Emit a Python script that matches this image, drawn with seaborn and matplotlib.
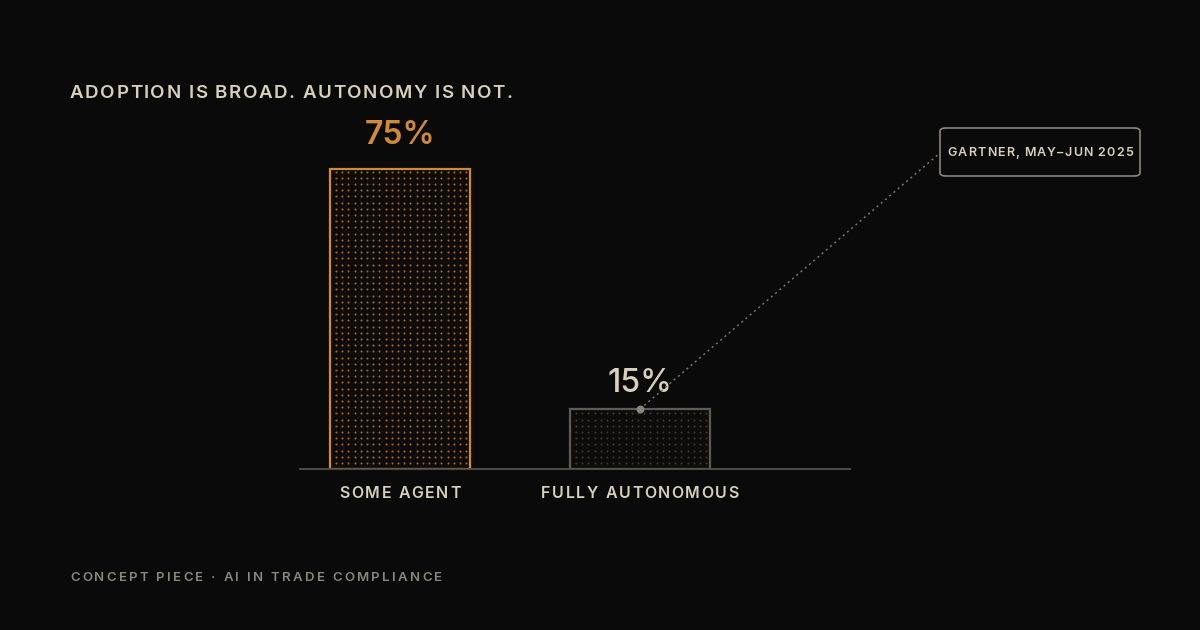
import matplotlib
matplotlib.use("Agg")
import matplotlib.pyplot as plt
import seaborn as sns
import numpy as np
import pandas as pd
from matplotlib.patches import FancyBboxPatch

categories = ["SOME AGENT", "FULLY AUTONOMOUS"]
values = [75, 15]
value_labels = ["75%", "15%"]
title = "ADOPTION IS BROAD. AUTONOMY IS NOT."
source = "GARTNER, MAY–JUN 2025"
footer = "CONCEPT PIECE · AI IN TRADE COMPLIANCE"

BG = "#0a0a0a"
ORANGE = "#d08a3a"
CREAM = "#d9d0bb"
GRAY = "#5f5b54"

sns.set_theme(style="white")
plt.rcParams['font.family'] = ['Inter', 'DejaVu Sans']

fig = plt.figure(figsize=(12, 6.3), dpi=100, facecolor=BG)
renderer = fig.canvas.get_renderer()

def spaced(x_px, y_px, s, spacing, ha="left", **kw):
    """Draw letter-spaced text in figure pixel coordinates (y from top)."""
    items = []
    for ch in s:
        t = fig.text(0, 0, ch, va="center", ha="left", **kw)
        w = t.get_window_extent(renderer).width if ch != " " else None
        if ch == " ":
            t2 = fig.text(0, 0, "a a", **kw); wa = fig.text(0, 0, "aa", **kw)
            w = t2.get_window_extent(renderer).width - wa.get_window_extent(renderer).width
            t2.remove(); wa.remove()
        items.append((t, w))
    total = sum(w for _, w in items) + spacing * (len(items) - 1)
    x = x_px - (total / 2 if ha == "center" else 0)
    for t, w in items:
        t.set_position((x / 1200, (630 - y_px) / 630))
        x += w + spacing

ax = fig.add_axes([300/1200, 161/630, 550/1200, 400/630])
ax.set_facecolor(BG)
df = pd.DataFrame({"cat": categories, "val": values})
sns.barplot(data=df, x="cat", y="val", ax=ax, width=140/240, order=categories)
ax.set_xlim(-100/240, 1 + 210/240)
ax.set_ylim(0, 100)

edges = [ORANGE, GRAY]
dots = ["#a8692a", "#3c3a35"]
for p, ec, dc in zip(ax.patches, edges, dots):
    p.set_facecolor("#0d0c0b")
    p.set_edgecolor(ec)
    p.set_linewidth(1.6)
    x0, w, h = p.get_x(), p.get_width(), p.get_height()
    xs = np.arange(x0 + 6/240, x0 + w - 2/240, 6.2/240)
    ys = np.arange(1.5, h - 0.5, 1.55)
    X, Y = np.meshgrid(xs, ys)
    ax.scatter(X.ravel(), Y.ravel(), s=2.2, color=dc, linewidths=0, zorder=3)

ax.text(0, 79.5, value_labels[0], ha="center", va="bottom", color=ORANGE,
        fontsize=23, fontweight="semibold")
ax.text(1, 17.5, value_labels[1], ha="center", va="bottom", color=CREAM,
        fontsize=23, fontweight="medium")

for s in ["top", "right", "left"]:
    ax.spines[s].set_visible(False)
ax.spines["bottom"].set_color("#55524c")
ax.spines["bottom"].set_linewidth(1.3)
ax.set_yticks([])
ax.set_xlabel(""); ax.set_ylabel("")
ax.set_xticklabels([])
ax.tick_params(axis="x", length=0)
for i, c in enumerate(categories):
    spaced(400 + 240 * i, 494, c, 1.6, ha="center", color=CREAM, fontsize=11.5,
           fontweight="semibold")

# callout
ax.scatter([1.0], [15], s=22, color="#8a867e", zorder=5, clip_on=False)
ax.plot([1.0, 1 + 300/240], [15, (469-153)/4], ls=(0, (1.5, 2.5)), lw=1, color="#7d7a73",
        clip_on=False, zorder=4)
fig.patches.append(FancyBboxPatch((940/1200, (630-176)/630), 200/1200, 48/630,
                                  boxstyle="round,pad=0,rounding_size=0.005",
                                  transform=fig.transFigure, fc=BG, ec="#8a8478", lw=1.2))
spaced(1040, 153, source, 1.1, ha="center", color=CREAM, fontsize=9, fontweight="semibold")

spaced(70, 93, title, 1.5, color=CREAM, fontsize=13.5, fontweight="semibold")
spaced(70, 578, footer, 2.3, color="#8d877c", fontsize=9.5, fontweight="semibold")

fig.savefig("out.png", dpi=100, facecolor=BG)
